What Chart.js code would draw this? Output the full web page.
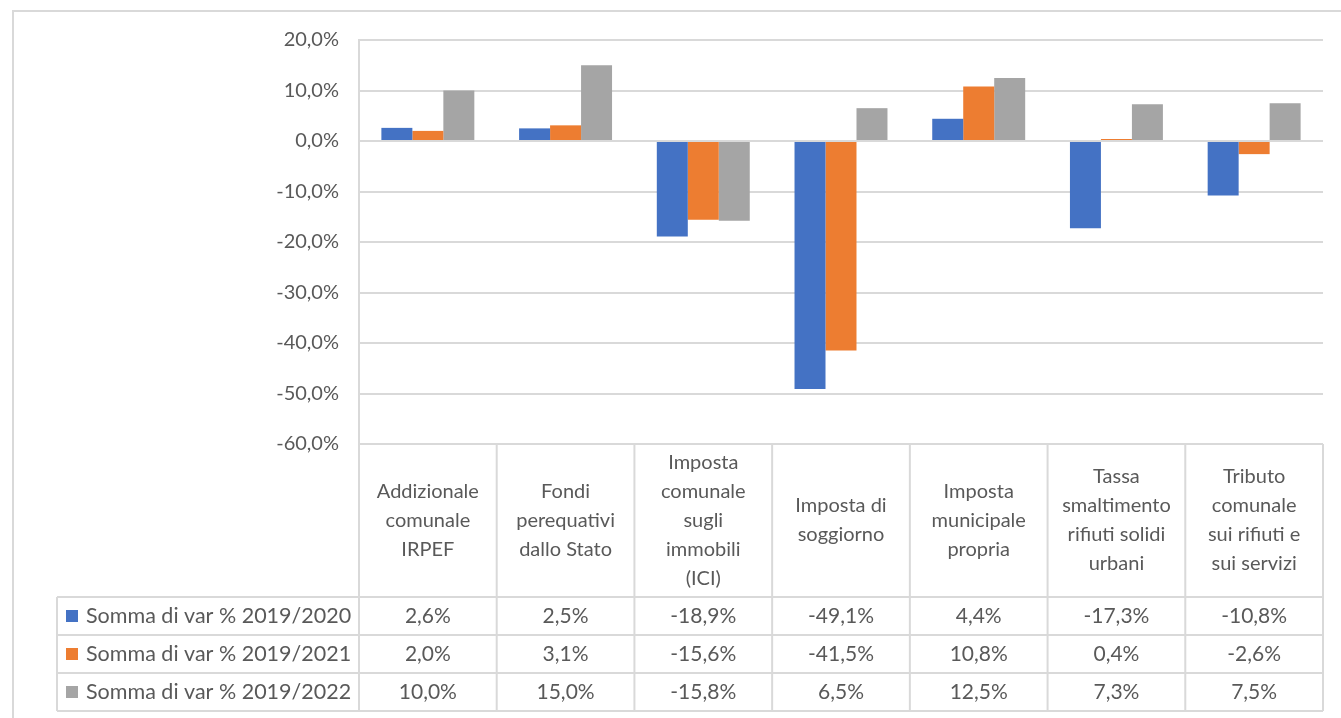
<!DOCTYPE html>
<html><head><meta charset="utf-8">
<script src="https://cdn.jsdelivr.net/npm/chart.js@4.4.1/dist/chart.umd.min.js"></script>
<style>html,body{margin:0;padding:0;background:#fff;}#wrap{width:1341px;height:718px;position:relative;}</style>
</head><body><div id="wrap"><canvas id="c" width="1341" height="718"></canvas></div>
<script>
const categories = [
  ["Addizionale","comunale","IRPEF"],
  ["Fondi","perequativi","dallo Stato"],
  ["Imposta","comunale","sugli","immobili","(ICI)"],
  ["Imposta di","soggiorno"],
  ["Imposta","municipale","propria"],
  ["Tassa","smaltimento","rifiuti solidi","urbani"],
  ["Tributo","comunale","sui rifiuti e","sui servizi"]
];
const seriesNames = ["Somma di var % 2019/2020","Somma di var % 2019/2021","Somma di var % 2019/2022"];
const var2020 = [2.6, 2.5, -18.9, -49.1, 4.4, -17.3, -10.8];
const var2021 = [2.0, 3.1, -15.6, -41.5, 10.8, 0.4, -2.6];
const var2022 = [10.0, 15.0, -15.8, 6.5, 12.5, 7.3, 7.5];
const colors = ["#4472C4","#ED7D31","#A5A5A5"];
const FONT = "Lato, 'Liberation Sans', sans-serif";
const TXT = "#595959";
const LINE = "#d9d9d9";
const fmt = v => v.toFixed(1).replace('.', ',') + '%';

const tablePlugin = {
  id: 'dataTable',
  afterDraw(chart) {
    const ctx = chart.ctx;
    const ca = chart.chartArea;
    const xs = chart.scales.x;
    const n = categories.length;
    const cw = (ca.right - ca.left) / n;
    const headerBottom = 597, rowH = 38;
    const legendLeft = 57;
    const allSeries = [var2020, var2021, var2022];
    ctx.save();
    ctx.strokeStyle = LINE;
    ctx.lineWidth = 2;
    ctx.strokeRect(13, 11, 1340, 720);
    ctx.beginPath();
    ctx.moveTo(ca.left, ca.bottom); ctx.lineTo(ca.right, ca.bottom);
    for (let r = 0; r <= 3; r++) {
      const y = headerBottom + r * rowH;
      ctx.moveTo(legendLeft, y); ctx.lineTo(ca.right, y);
    }
    for (let i = 0; i <= n; i++) {
      const x = ca.left + i * cw;
      ctx.moveTo(x, i === 0 ? ca.top : ca.bottom); ctx.lineTo(x, headerBottom + 3 * rowH);
    }
    ctx.moveTo(legendLeft, headerBottom); ctx.lineTo(legendLeft, headerBottom + 3 * rowH);
    ctx.stroke();
    ctx.fillStyle = TXT;
    ctx.font = "20px " + FONT;
    ctx.textAlign = 'center';
    ctx.textBaseline = 'middle';
    const lh = 29;
    const midH = (ca.bottom + headerBottom) / 2;
    categories.forEach((lines, i) => {
      const cx = xs.getPixelForValue(i);
      const y0 = midH - (lines.length - 1) * lh / 2;
      lines.forEach((t, k) => ctx.fillText(t, cx, y0 + k * lh));
    });
    allSeries.forEach((arr, r) => {
      const cy = headerBottom + r * rowH + rowH / 2;
      ctx.font = "21px " + FONT;
      ctx.textAlign = 'center';
      ctx.fillStyle = TXT;
      arr.forEach((v, i) => {
        ctx.fillText(fmt(v), xs.getPixelForValue(i), cy);
      });
      ctx.fillStyle = colors[r];
      ctx.fillRect(66, cy - 6, 12, 12);
      ctx.fillStyle = TXT;
      ctx.textAlign = 'left';
      ctx.font = "21.5px " + FONT;
      ctx.fillText(seriesNames[r], 86, cy);
    });
    ctx.restore();
  }
};

new Chart(document.getElementById('c'), {
  type: 'bar',
  data: {
    labels: categories.map(l => l.join(' ')),
    datasets: [
      { label: seriesNames[0], data: var2020, backgroundColor: colors[0] },
      { label: seriesNames[1], data: var2021, backgroundColor: colors[1] },
      { label: seriesNames[2], data: var2022, backgroundColor: colors[2] }
    ]
  },
  options: {
    responsive: false,
    animation: false,
    devicePixelRatio: 1,
    layout: { padding: { top: 40, bottom: 274, right: 18, left: 0 } },
    datasets: { bar: { categoryPercentage: 0.675, barPercentage: 1.0, borderWidth: 0 } },
    plugins: { legend: { display: false }, tooltip: { enabled: false } },
    scales: {
      x: { display: false, grid: { display: false } },
      y: {
        min: -60, max: 20,
        afterFit(scale) { scale.width = 359; },
        ticks: { stepSize: 10, color: TXT, padding: 20, font: { family: FONT, size: 20 }, callback: v => fmt(v) },
        grid: { color: LINE, lineWidth: 2, drawTicks: false },
        border: { display: true, color: LINE, width: 2 }
      }
    }
  },
  plugins: [tablePlugin]
});
</script></body></html>
